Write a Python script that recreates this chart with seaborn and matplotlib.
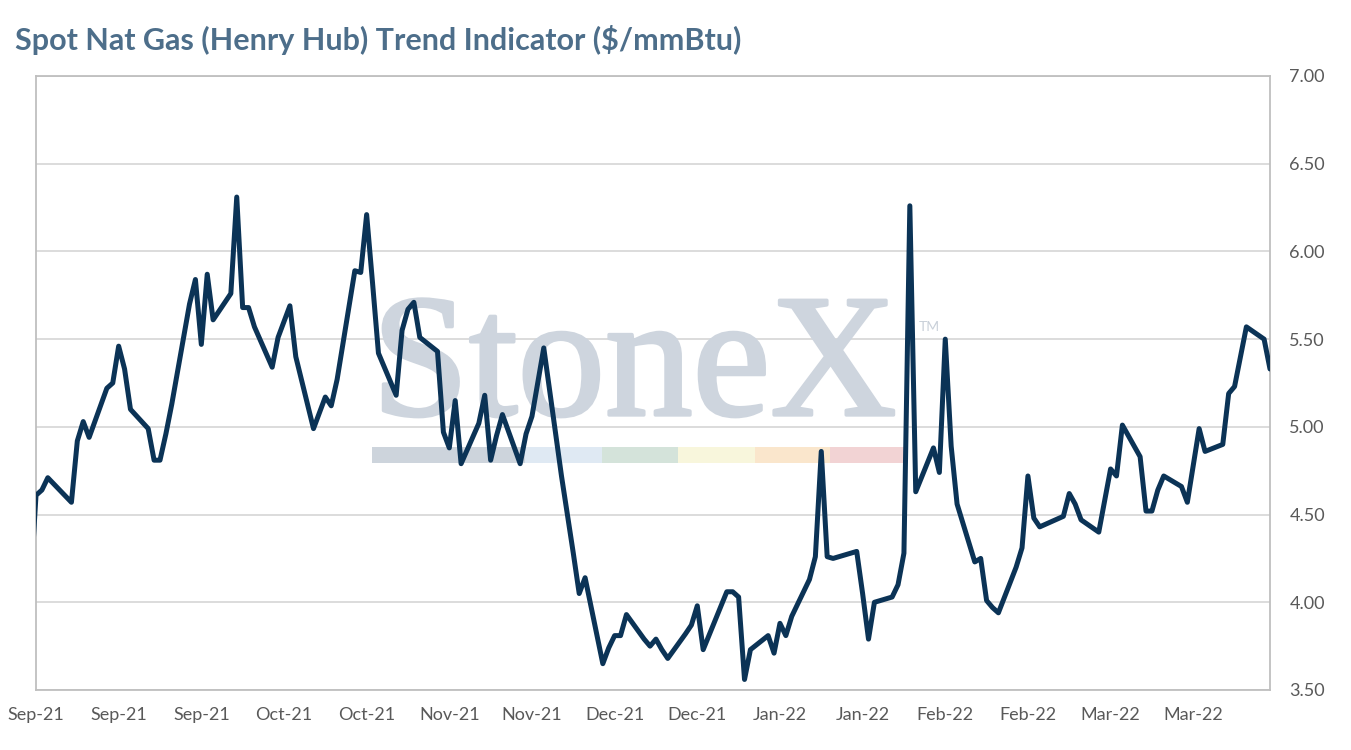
import pandas as pd
import matplotlib.pyplot as plt
import matplotlib.dates as mdates
import matplotlib.patches as mpatches
import matplotlib.patheffects as pe
import seaborn as sns

# Preços diários spot Henry Hub ($/mmBtu), um mês por lista
aug_vals = [4.05]
sep_vals = [4.61, 4.64, 4.71, 4.57, 4.92, 5.03, 4.94, 5.22, 5.25, 5.46, 5.33,
            5.10, 4.99, 4.81, 4.81, 4.96, 5.13, 5.70, 5.84, 5.47, 5.87]
oct_vals = [5.61, 5.76, 6.31, 5.68, 5.68, 5.57, 5.34, 5.51, 5.60, 5.69, 5.40,
            4.99, 5.08, 5.17, 5.12, 5.27, 5.89, 5.88, 6.21, 5.82, 5.42]
nov_vals = [5.18, 5.55, 5.67, 5.71, 5.51, 5.43, 4.97, 4.88, 5.15, 4.79, 5.02,
            5.18, 4.81, 4.95, 5.07, 4.79, 4.96, 5.06, 5.45, 4.72, 4.50]
dec_vals = [4.28, 4.05, 4.14, 3.65, 3.74, 3.81, 3.81, 3.93, 3.79, 3.75, 3.79,
            3.73, 3.68, 3.82, 3.87, 3.98, 3.73, 4.06, 4.06, 4.03, 3.56, 3.73]
jan_vals = [3.81, 3.71, 3.88, 3.81, 3.92, 4.13, 4.26, 4.86, 4.26, 4.25, 4.29,
            4.05, 3.79, 4.00, 4.03, 4.10, 4.28, 6.26, 4.63, 4.88]
feb_vals = [4.74, 5.50, 4.89, 4.56, 4.23, 4.25, 4.01, 3.97, 3.94, 4.20, 4.31,
            4.72, 4.48, 4.43, 4.49, 4.62, 4.56, 4.47, 4.40]
mar_vals = [4.58, 4.76, 4.72, 5.01, 4.83, 4.52, 4.52, 4.64, 4.72, 4.66, 4.57,
            4.78, 4.99, 4.86, 4.90, 5.19, 5.23, 5.40, 5.57, 5.50, 5.33]

# dias sem cotação
holidays = ["2021-09-06", "2021-11-25", "2021-12-24", "2022-01-17", "2022-02-21"]

y_ticks = [3.5, 4.0, 4.5, 5.0, 5.5, 6.0, 6.5, 7.0]
title = "Spot Nat Gas (Henry Hub) Trend Indicator ($/mmBtu)"

dates = pd.bdate_range("2021-08-31", "2022-03-29")
dates = dates[~dates.isin(pd.to_datetime(holidays))]
values = aug_vals + sep_vals + oct_vals + nov_vals + dec_vals + jan_vals + feb_vals + mar_vals
df = pd.DataFrame({"data": dates, "preco": values})

sns.set_theme(style="white")
plt.rcParams['font.family'] = ['Lato', 'DejaVu Sans']

W, H = 1351, 750
fig = plt.figure(figsize=(W / 100, H / 100), dpi=100)
ax = fig.add_axes([36 / W, 1 - 690 / H, 1234 / W, 614 / H])

# marca d'água StoneX
wm = "#ced5de"
ax.text(0.272, 0.448, "StoneX", transform=ax.transAxes, fontsize=126,
        family="Liberation Serif", color=wm, zorder=1,
        path_effects=[pe.withStroke(linewidth=2.5, foreground=wm)])
ax.text(0.715, 0.585, "TM", transform=ax.transAxes, fontsize=10,
        color="#c9d0d9", zorder=1)
bar_edges = [0.2723, 0.3963, 0.4587, 0.5203, 0.5827, 0.6434, 0.7042]
bar_colors = ["#cdd4dc", "#dfe9f3", "#d4e3da", "#f8f6dc", "#fae6cc", "#f2d3d4"]
for x0, x1, c in zip(bar_edges[:-1], bar_edges[1:], bar_colors):
    ax.add_patch(mpatches.Rectangle((x0, 0.370), x1 - x0, 0.026, transform=ax.transAxes,
                                    color=c, lw=0, zorder=1))

sns.lineplot(data=df, x="data", y="preco", ax=ax, color="#0b3356", lw=3.6,
             solid_joinstyle="round", solid_capstyle="round", zorder=3)

ax.set_xlim(pd.Timestamp("2021-09-01"), pd.Timestamp("2022-03-29"))
ax.set_ylim(3.5, 7.0)
ax.set_yticks(y_ticks)
ax.yaxis.set_major_formatter(plt.FormatStrFormatter("%.2f"))
ax.set_xticks(pd.date_range("2021-09-01", "2022-03-16", freq="14D"))
ax.xaxis.set_major_formatter(mdates.DateFormatter("%b-%y"))
ax.yaxis.tick_right()
ax.set_xlabel("")
ax.set_ylabel("")

ax.yaxis.grid(True, color="#d9d9d9", lw=1.3, zorder=0)
ax.xaxis.grid(False)
for s in ax.spines.values():
    s.set_color("#bfbfbf")
    s.set_linewidth(1.3)
ax.tick_params(axis="y", length=0, pad=14, labelsize=13, labelcolor="#595959")
ax.tick_params(axis="x", length=0, pad=12, labelsize=13, labelcolor="#595959")

fig.text(15 / W, 1 - 40 / H, title, fontsize=22, weight="bold", color="#4d6e8a",
         va="center", ha="left")

fig.savefig("out.png", dpi=100)
plt.close(fig)
